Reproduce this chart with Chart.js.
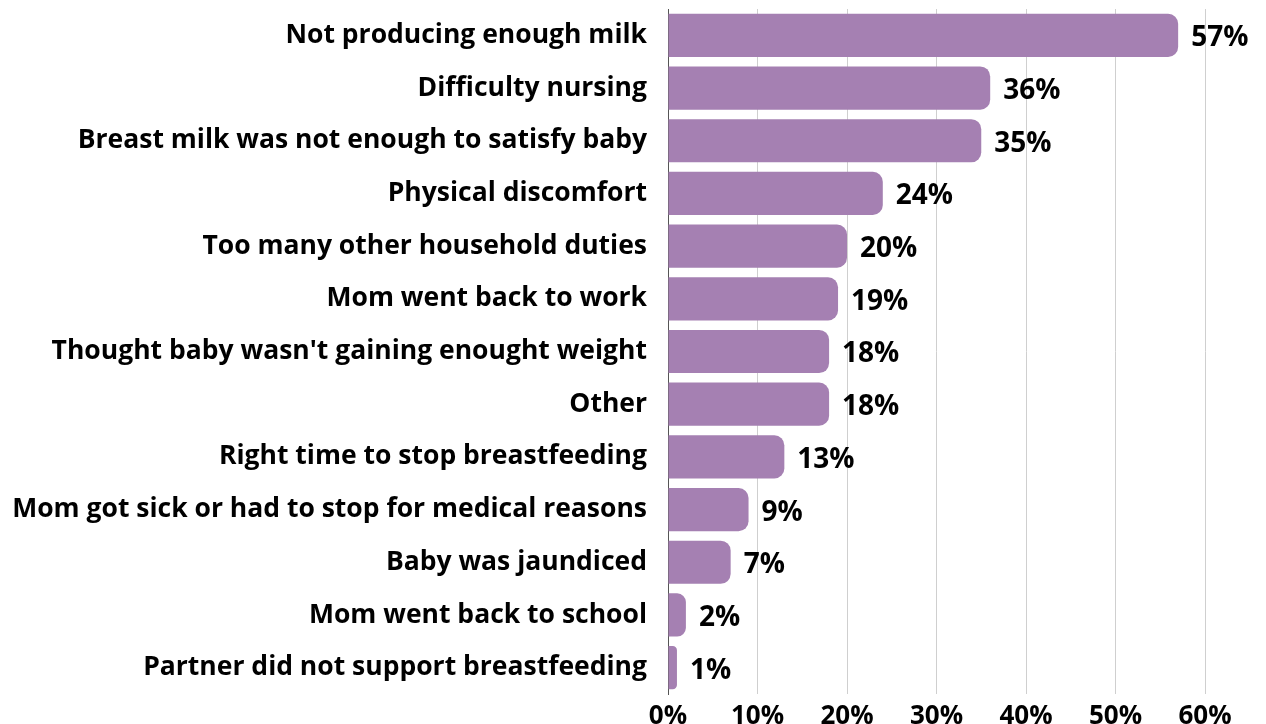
<!DOCTYPE html>
<html>
<head>
<meta charset="utf-8">
<script src="https://cdn.jsdelivr.net/npm/chart.js@4/dist/chart.umd.min.js"></script>
<style>
  html, body { margin: 0; padding: 0; background: #fff; overflow: hidden; }
  .chart-container { position: relative; width: 1266px; height: 724px; }
</style>
</head>
<body>
<div class="chart-container">
  <canvas id="reasons-chart"></canvas>
</div>
<script>
const reasons = [
  "Not producing enough milk",
  "Difficulty nursing",
  "Breast milk was not enough to satisfy baby",
  "Physical discomfort",
  "Too many other household duties",
  "Mom went back to work",
  "Thought baby wasn't gaining enought weight",
  "Other",
  "Right time to stop breastfeeding",
  "Mom got sick or had to stop for medical reasons",
  "Baby was jaundiced",
  "Mom went back to school",
  "Partner did not support breastfeeding",
];
const shares = [57, 36, 35, 24, 20, 19, 18, 18, 13, 9, 7, 2, 1];
const tickValues = [0, 10, 20, 30, 40, 50, 60];

const barColour = "rgb(165, 128, 178)";
const fontFamily = "'Open Sans', sans-serif";

// draws the "57%" style labels at the end of each bar
const valueLabels = {
  id: "valueLabels",
  afterDatasetsDraw(chart) {
    const ctx = chart.ctx;
    const meta = chart.getDatasetMeta(0);
    ctx.save();
    ctx.font = `700 28px ${fontFamily}`;
    ctx.fillStyle = "#000";
    ctx.textAlign = "left";
    ctx.textBaseline = "middle";
    meta.data.forEach((bar, i) => {
      ctx.fillText(`${shares[i]}%`, bar.x + 13, bar.y + 3);
    });
    ctx.restore();
  },
};

new Chart(document.getElementById("reasons-chart"), {
  type: "bar",
  data: {
    labels: reasons,
    datasets: [
      {
        data: shares,
        backgroundColor: barColour,
        borderRadius: 10,
        borderSkipped: "start",
        barPercentage: 0.82,
        categoryPercentage: 1,
      },
    ],
  },
  options: {
    indexAxis: "y",
    responsive: true,
    maintainAspectRatio: false,
    animation: false,
    layout: { padding: { top: 9, right: 61, left: 12, bottom: 0 } },
    plugins: {
      legend: { display: false },
      tooltip: { enabled: false },
    },
    scales: {
      x: {
        min: 0,
        max: 60,
        afterBuildTicks: (axis) => {
          axis.ticks = tickValues.map((v) => ({ value: v }));
        },
        afterFit: (scale) => {
          // labels run off the bottom edge a little, like the original
          scale.height = 30;
        },
        grid: { color: "#cfcfcf", lineWidth: 1, drawTicks: false },
        border: { display: false },
        ticks: {
          padding: 7,
          color: "#000",
          font: { family: fontFamily, size: 26, weight: "700" },
          callback: (v) => `${v}%`,
        },
      },
      y: {
        afterFit: (scale) => {
          // the long labels need more than the default half-width limit
          scale.width = 656;
          scale.paddingTop = 0;
          scale.paddingBottom = 0;
        },
        grid: { display: false, drawTicks: false },
        border: { display: true, color: "#555", width: 1 },
        ticks: {
          padding: 21,
          color: "#000",
          font: { family: fontFamily, size: 26.5, weight: "700" },
        },
      },
    },
  },
  plugins: [valueLabels],
});
</script>
</body>
</html>
